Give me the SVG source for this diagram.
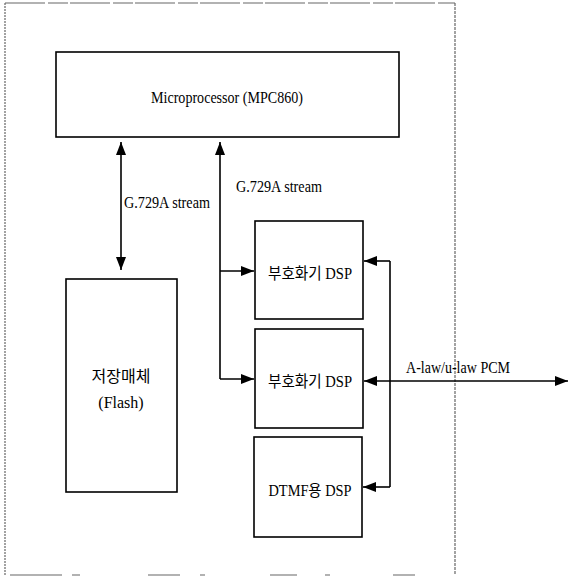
<svg xmlns="http://www.w3.org/2000/svg" width="569" height="576" viewBox="0 0 569 576">
<style>
.box{fill:#fff;stroke:#000;stroke-width:1.6}
.t{font-family:"Liberation Serif","Noto Sans CJK KR",serif;font-size:16px;fill:#000;text-anchor:middle}
.tl{font-family:"Liberation Serif","Noto Sans CJK KR",serif;font-size:16px;fill:#000}
.c{fill:none;stroke:#000;stroke-width:1.6}
.frame{fill:none;stroke:#666;stroke-width:1.2}
</style>
<defs>
<marker id="ah" markerUnits="userSpaceOnUse" markerWidth="14" markerHeight="11" viewBox="0 0 14 11" refX="13" refY="5.5" orient="auto-start-reverse">
<path d="M0,0.5 L13,5.5 L0,10.5 z" fill="#000"/>
</marker>
</defs>
<g id="frame">
<line class="frame" x1="5" y1="3" x2="455" y2="3" stroke-dasharray="40 3 20 2"/>
<line class="frame" x1="5" y1="3" x2="5" y2="575" stroke-dasharray="2 1"/>
<line class="frame" x1="455" y1="3" x2="455" y2="575" stroke-dasharray="3 1"/>
<path class="frame" d="M10,575 H62 M72,575 H80 M148,575 H180 M200,575 H205 M270,575 H297 M325,575 H330 M393,575 H415"/>
</g>
<g id="mpu">
<rect class="box" x="56" y="52" width="343" height="85"/>
<text class="t" x="227" y="103" textLength="152" lengthAdjust="spacingAndGlyphs">Microprocessor (MPC860)</text>
</g>
<g id="flash">
<rect class="box" x="66" y="279" width="111" height="213"/>
<text class="t" x="121" y="382">저장매체</text>
<text class="t" x="121" y="408">(Flash)</text>
</g>
<g id="dsp1">
<rect class="box" x="255" y="221" width="108" height="98"/>
<text class="t" x="310" y="279" textLength="84" lengthAdjust="spacingAndGlyphs">부호화기 DSP</text>
</g>
<g id="dsp2">
<rect class="box" x="255" y="329" width="108" height="99"/>
<text class="t" x="310" y="387" textLength="84" lengthAdjust="spacingAndGlyphs">부호화기 DSP</text>
</g>
<g id="dsp3">
<rect class="box" x="254" y="437" width="108" height="100"/>
<text class="t" x="310" y="496" textLength="83" lengthAdjust="spacingAndGlyphs">DTMF용 DSP</text>
</g>
<g id="connectors">
<path class="c" d="M121,142 V270" marker-start="url(#ah)" marker-end="url(#ah)"/>
<path class="c" d="M220,142 V379" marker-start="url(#ah)"/>
<path class="c" d="M220,271 H254" marker-end="url(#ah)"/>
<path class="c" d="M220,379 H254" marker-end="url(#ah)"/>
<path class="c" d="M390,261 V487"/>
<path class="c" d="M390,261 H364" marker-end="url(#ah)"/>
<path class="c" d="M390,487 H363" marker-end="url(#ah)"/>
<path class="c" d="M364,381 H568" marker-start="url(#ah)" marker-end="url(#ah)"/>
<text class="tl" x="124" y="208" textLength="86" lengthAdjust="spacingAndGlyphs">G.729A stream</text>
<text class="tl" x="236" y="192" textLength="86" lengthAdjust="spacingAndGlyphs">G.729A stream</text>
<text class="tl" x="406" y="373" textLength="104" lengthAdjust="spacingAndGlyphs">A-law/u-law PCM</text>
</g>
</svg>
